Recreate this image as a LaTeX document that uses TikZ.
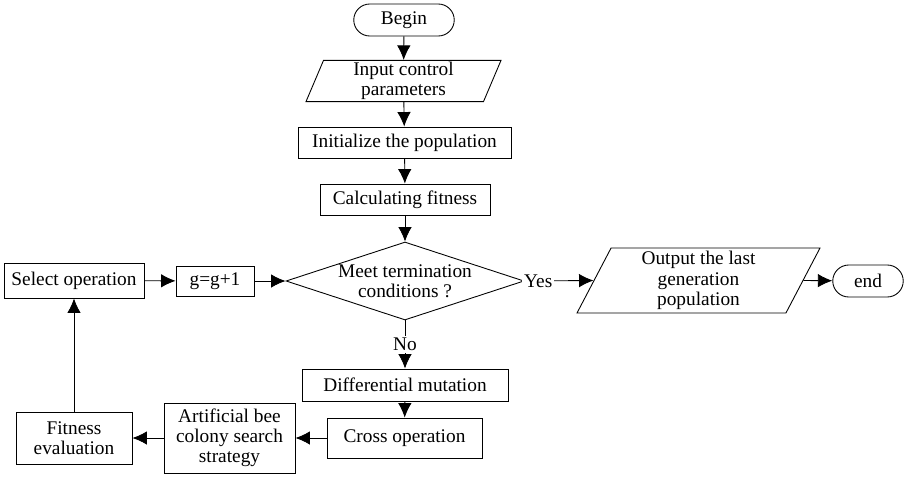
\documentclass[tikz,border=0pt]{standalone}
\usepackage{fontspec}
\setmainfont{Liberation Serif}
\usetikzlibrary{arrows.meta,shapes.geometric,shapes.misc,positioning}
\tikzset{
  box/.style={draw, rectangle, line width=0.5pt, align=center, inner sep=1pt},
  term/.style={draw, rounded rectangle, line width=0.5pt, inner sep=1pt,
    minimum height=0.64cm},
  io/.style={draw, trapezium, trapezium left angle=67, trapezium right angle=113,
    trapezium stretches body, line width=0.5pt, align=center, inner sep=1pt},
  decision/.style={draw, diamond, line width=0.5pt, inner sep=0pt},
  flow/.style={-{Latex[length=2.9mm,width=2.7mm]}, line width=0.5pt},
  tag/.style={fill=white, inner sep=1pt}
}

\begin{document}
\begin{tikzpicture}[font=\fontsize{11}{11.5}\selectfont]
\useasboundingbox (0,0) rectangle (18.12,-9.52);
% main column
\node[term, minimum width=2.08cm] (begin) at (8.08,-0.40) {Begin};
\node[io, minimum width=3.9cm, minimum height=0.8cm] (input) at (8.07,-1.62)
  {Input control\\parameters};
\node[box, minimum width=4.26cm, minimum height=0.62cm] (init) at (8.09,-2.85)
  {Initialize the population};
\node[box, minimum width=3.4cm, minimum height=0.62cm] (calc) at (8.1,-3.99)
  {Calculating fitness};
\node[decision, minimum width=4.76cm, minimum height=1.56cm,
  label={[align=center]center:Meet termination\\conditions ?}] (meet) at (8.1,-5.62) {};
% output branch
\node[io, trapezium left angle=61, trapezium right angle=119,
  minimum width=4.86cm, minimum height=1.3cm] (output) at (13.97,-5.61)
  {Output the last\\generation\\population};
\node[term, minimum width=1.48cm] (end) at (17.36,-5.62) {end};
% loop
\node[box, minimum width=4.12cm, minimum height=0.64cm] (mutate) at (8.1,-7.7)
  {Differential mutation};
\node[box, minimum width=3.1cm, minimum height=0.8cm] (cross) at (8.09,-8.76)
  {Cross operation};
\node[box, minimum width=2.62cm, minimum height=1.4cm] (bee) at (4.59,-8.76)
  {Artificial bee\\colony search\\strategy};
\node[box, minimum width=2.32cm, minimum height=1.04cm] (fitness) at (1.48,-8.76)
  {Fitness\\evaluation};
\node[box, minimum width=2.8cm, minimum height=0.7cm] (select) at (1.48,-5.61)
  {Select operation};
\node[box, minimum width=1.56cm, minimum height=0.6cm] (gen) at (4.3,-5.62)
  {g=g+1};
% connectors
\draw[flow] (begin) -- (input);
\draw[flow] (input) -- (init);
\draw[flow] (init) -- (calc);
\draw[flow] (calc) -- (meet);
\draw[flow] (meet.east) -- node[tag, pos=0.2] (yes) {Yes} (output.west);
\draw[flow] (output.east) -- (end);
\draw[flow] (meet.south) -- node[tag] (no) {No} (mutate);
\draw[flow] (mutate) -- (cross);
\draw[flow] (cross) -- (bee);
\draw[flow] (bee) -- (fitness);
\draw[flow] (fitness) -- (select);
\draw[flow] (select) -- (gen);
\draw[flow] (gen) -- (meet.west);
\end{tikzpicture}
\end{document}
